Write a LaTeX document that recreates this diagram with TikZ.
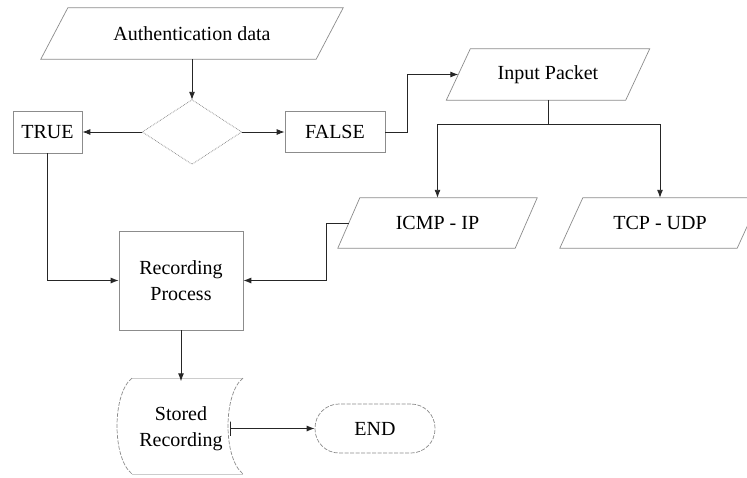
\documentclass[tikz,border=0pt]{standalone}
\usepackage{fontspec}
\setmainfont{Liberation Serif}
\newfontfamily\timesf{Liberation Serif}
\usetikzlibrary{arrows.meta}
\newcommand\paraout[2]{\draw[shapeline] ([xshift=-#2pt]#1.south west) -- ([xshift=-#2pt]#1.south east) -- ([xshift=#2pt]#1.north east) -- ([xshift=#2pt]#1.north west) -- cycle;}
\begin{document}
\begin{tikzpicture}[x=1pt,y=-1pt,
  txt/.style={font=\timesf\fontsize{20}{26}\selectfont, text=black, inner sep=0pt, align=center},
  hold/.style={txt, draw=none, minimum width=#1},
  box/.style={txt, draw=black!45, line width=0.7pt},
  shapeline/.style={draw=black!45, line width=0.7pt},
  conn/.style={draw=black!85, line width=0.9pt},
  arr/.style={conn, -{Latex[length=8pt,width=6pt]}}]
\useasboundingbox (0,0) rectangle (747,477);
\clip (0,0) rectangle (747,477);
\fill[white] (0,0) rectangle (747,477);

% parallelograms (placeholders of mid-height width)
\node[hold=275, minimum height=51] (auth) at (192,33.5) {Authentication data};
\paraout{auth}{13.5}
\node[hold=179, minimum height=51] (ip) at (548,74.5) {Input Packet};
\paraout{ip}{12}
\node[hold=177, minimum height=50] (icmp) at (437.5,223) {ICMP - IP};
\paraout{icmp}{11}
\node[hold=177, minimum height=50] (tcp) at (660,223) {TCP - UDP};
\paraout{tcp}{11.5}

% decision
\node[hold=99, minimum height=64] (d) at (192,132) {};
\draw[shapeline, densely dotted, line width=0.8pt] (d.north) -- (d.east) -- (d.south) -- (d.west) -- cycle;

\node[box, minimum width=69, minimum height=42] (t) at (47.5,132) {TRUE};
\node[box, minimum width=100, minimum height=41] (f) at (335,132) {FALSE};

\node[box, minimum width=124, minimum height=99] (rp) at (181,280.5) {Recording\\Process};

% stored data
\node[hold=124, minimum height=94] (st) at (181,428.5) {Stored\\Recording};
\draw[black!20, line width=0.5pt] (132,378) -- (243,378) (132,474) -- (243,474);
\draw[shapeline, dashed, dash pattern=on 4pt off 1.5pt] (132,378) .. controls (112,394) and (112,458) .. (132,474);
\draw[shapeline, dashed, dash pattern=on 4pt off 1.5pt] (243,378) .. controls (223,394) and (223,458) .. (243,474);

\node[txt, draw=black!45, dashed, dash pattern=on 4pt off 1.5pt, line width=0.7pt, rounded corners=24pt, minimum width=120, minimum height=49] (e) at (375,428.5) {END};

% connectors
\draw[arr] (auth.south) -- (d.north);
\draw[arr] (d.west) -- (t.east);
\draw[arr] (d.east) -- (f.west);
\draw[arr] (f.east) -- ++(22,0) |- (ip.west);
\draw[arr] (ip.south) -- ++(0,24) -| (icmp.north);
\draw[arr] (ip.south) -- ++(0,24) -| (tcp.north);
\draw[arr] (icmp.west) -- ++(-22,0) |- (rp.east);
\draw[arr] (t.south) |- (rp.west);
\draw[arr] (rp.south) -- (st.north);
\draw[conn] ([xshift=-13pt]st.east) -- ++(0,-7) -- ++(0,14);
\draw[arr] ([xshift=-13pt]st.east) -- (e.west);
\end{tikzpicture}
\end{document}
